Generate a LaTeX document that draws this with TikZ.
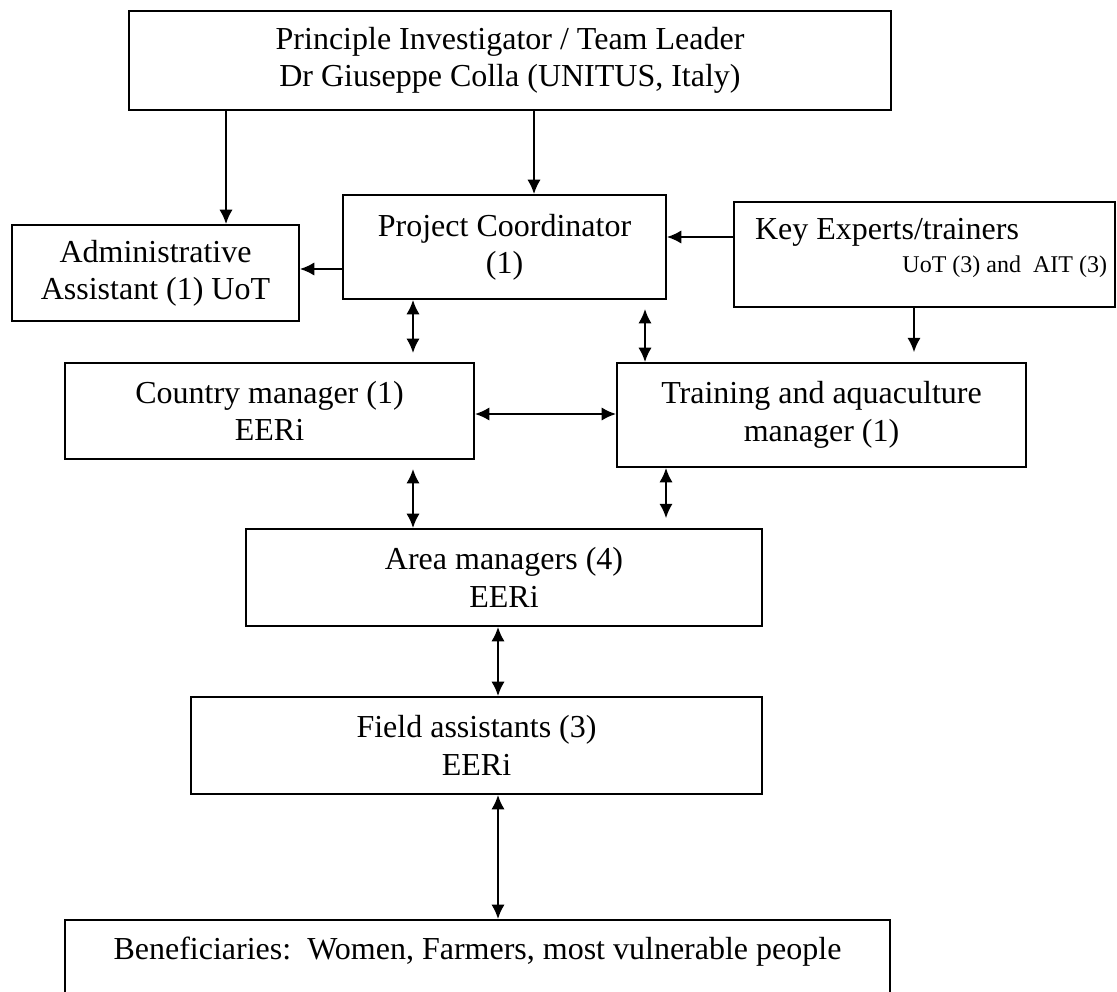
\documentclass[tikz,border=0pt]{standalone}
\usepackage{fontspec}
\setmainfont{Liberation Serif}
\usepackage{tikz}
\usetikzlibrary{arrows.meta}
\tikzstyle{box}=[rectangle, draw=black, line width=0.7pt, align=center, font=\fontsize{12}{14}\selectfont]
\tikzset{>={Latex[length=5.4pt,width=5pt]}}

\begin{document}
\begin{tikzpicture}[x=0.375pt, y=-0.375pt, line width=0.75pt]
    \useasboundingbox (0, 0) rectangle (1117, 992);
    \clip (0, 0) rectangle (1117, 992);

    \draw node at (510, 60.5) [box, minimum width=285.75pt, minimum height=37.1pt] (pi) {Principle Investigator / Team Leader\\Dr Giuseppe Colla (UNITUS, Italy)};
    \draw node at (504.5, 247) [box, minimum width=121.1pt, minimum height=39pt] (coord) {Project Coordinator\\(1)};
    \draw node at (155.5, 273) [box, minimum width=107.6pt, minimum height=36pt] (admin) {Administrative\\Assistant (1) UoT};
    \draw node at (924.5, 254.5) [box, inner xsep=2pt, minimum width=142.9pt, minimum height=39.4pt] (experts) {\makebox[136.9pt][l]{\hspace*{4.9pt}Key Experts/trainers}\\[-1.6pt]\makebox[136.9pt][r]{\fontsize{9}{11}\selectfont UoT (3) and\ \ AIT (3)}\rule[-6.75pt]{0pt}{6.75pt}};
    \draw node at (269.5, 411) [box, minimum width=153.4pt, minimum height=36pt] (country) {Country manager (1)\\EERi};
    \draw node at (821.5, 415) [box, minimum width=153.4pt, minimum height=39pt] (training) {Training and aquaculture\\manager (1)};
    \draw node at (504, 577.5) [box, minimum width=193.5pt, minimum height=36.4pt] (area) {Area managers (4)\\EERi};
    \draw node at (476.5, 745.5) [box, minimum width=214.1pt, minimum height=36.4pt] (field) {Field assistants (3)\\EERi};
    \draw node at (477.5, 919) [box, anchor=north, minimum width=309.4pt, inner ysep=7pt, text height=8pt, text depth=40pt] (benef) {Beneficiaries:\ \ Women, Farmers, most vulnerable people};

    \draw [->] (pi.south -| 226,0) to (admin.north -| 226,0);
    \draw [->] (pi.south -| 534,0) to (coord.north -| 534,0);
    \draw [->] (experts.west |- 0,237) to (coord.east |- 0,237);
    \draw [->] (coord.west |- 0,269) to (admin.east |- 0,269);
    \draw [<->, shorten >=3.4pt] (coord.south -| 413,0) to (country.north -| 413,0);
    \draw [<->, shorten <=3.4pt] (coord.south -| 645,0) to (training.north -| 645,0);
    \draw [->, shorten >=3.7pt] (experts.south -| 914,0) to (training.north -| 914,0);
    \draw [<->] (country.east |- 0,414) to (training.west |- 0,414);
    \draw [<->, shorten <=3.4pt] (country.south -| 413,0) to (area.north -| 413,0);
    \draw [<->, shorten >=3.7pt] (training.south -| 666,0) to (area.north -| 666,0);
    \draw [<->] (area.south -| 498,0) to (field.north -| 498,0);
    \draw [<->] (field.south -| 498,0) to (benef.north -| 498,0);
\end{tikzpicture}
\end{document}
